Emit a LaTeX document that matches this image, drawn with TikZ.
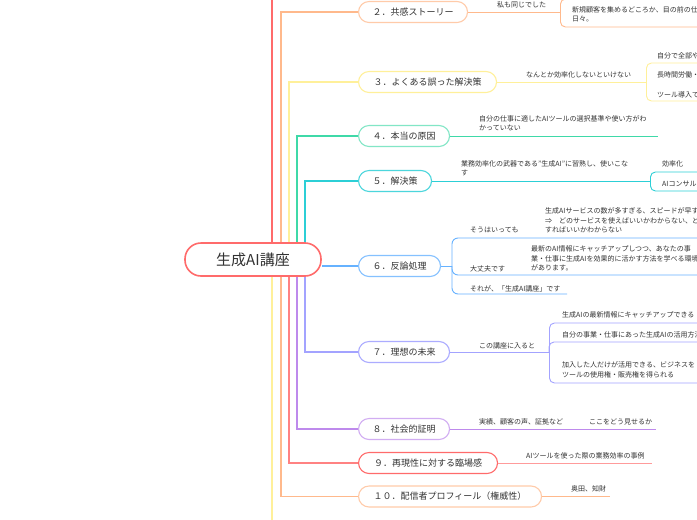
\documentclass[tikz,border=0pt]{standalone}
\usepackage{fontspec}
\setmainfont{Noto Sans CJK JP}
\usetikzlibrary{positioning,backgrounds}

\definecolor{cRed}{HTML}{FF6B6B}
\definecolor{cOrange}{HTML}{FFB98C}
\definecolor{cYellow}{HTML}{FFF09A}
\definecolor{cGreen}{HTML}{3FD9A8}
\definecolor{cCyan}{HTML}{2CCFD6}
\definecolor{cBlue}{HTML}{66B2FF}
\definecolor{cViolet}{HTML}{A3A3FF}
\definecolor{cPurple}{HTML}{BE8AEC}
\definecolor{cRedB}{HTML}{FF8282}
\definecolor{txt}{HTML}{333333}

\begin{document}
\begin{tikzpicture}[x=1pt, y=-1pt,
    root/.style={draw=cRed, line width=1.6pt, fill=white, rounded corners=16pt,
      minimum width=136pt, minimum height=33pt, font=\fontsize{15}{17}\selectfont, text=txt},
    topic/.style={draw=#1, line width=1.1pt, fill=white, rounded corners=10.5pt,
      minimum height=21pt, inner xsep=0pt, anchor=west, font=\fontsize{9}{11}\selectfont, text=txt},
    trunk/.style={line width=1.3pt},
    branch/.style={line width=0.9pt},
    lbl/.style={inner sep=0pt, anchor=west, align=left, font=\fontsize{7}{9.4}\selectfont, text=txt},
    subbox/.style={draw=#1, line width=0.9pt, rounded corners=5pt, minimum width=220pt, anchor=west}]

    \useasboundingbox (0,0) rectangle (697,520);
    \clip (0,0) rectangle (697,520);

    % central topic and main topics
    \node[root] (root) at (253,259.5) {生成AI講座};
    \node[topic=cOrange!75, minimum width=109pt] (t2) at (358,12) {２．共感ストーリー};
    \node[topic=cYellow, minimum width=138pt] (t3) at (358,82) {３．よくある誤った解決策};
    \node[topic=cGreen!65, minimum width=91pt] (t4) at (358,136) {４．本当の原因};
    \node[topic=cCyan!85, minimum width=73pt] (t5) at (358,181) {５．解決策};
    \node[topic=cBlue!80, minimum width=82pt] (t6) at (358,266) {６．反論処理};
    \node[topic=cViolet!90, minimum width=91pt] (t7) at (358,352) {７．理想の未来};
    \node[topic=cPurple!70, minimum width=91pt] (t8) at (358,429) {８．社会的証明};
    \node[topic=cRed, minimum width=139pt] (t9) at (358,463) {９．再現性に対する臨場感};
    \node[topic=cOrange!75, minimum width=183pt] (t10) at (358,496.5) {１０．配信者プロフィール（権威性）};

    % trunk lines
    \coordinate (r1) at (272,259.5);
    \coordinate (r2) at (281,259.5);
    \coordinate (r3) at (289,259.5);
    \coordinate (r4) at (297,259.5);
    \coordinate (r5) at (305,259.5);
    \coordinate (e1) at (272,0);
    \coordinate (e11) at (272,520);
    \begin{scope}[on background layer]
      \fill[white] (0,0) rectangle (697,520);
      \draw[trunk, cRed] (r1) -- (e1);
      \draw[trunk, cYellow] (r1) -- (e11);
      \draw[trunk, cOrange] (r2) |- (t2.west);
      \draw[trunk, cYellow] (r3) |- (t3.west);
      \draw[trunk, cGreen] (r4) |- (t4.west);
      \draw[trunk, cCyan] (r5) |- (t5.west);
      \draw[trunk, cBlue] (t6.west -| root.east) -- (t6.west);
      \draw[trunk, cViolet] (r5) |- (t7.west);
      \draw[trunk, cPurple] (r4) |- (t8.west);
      \draw[trunk, cRedB] (r3) |- (t9.west);
      \draw[trunk, cOrange] (r2) |- (t10.west);
    \end{scope}

    % 2
    \node[subbox=cOrange, minimum height=28pt] (b2) at (560,13) {};
    \draw[branch, cOrange] (t2.east) -- (t2.east -| b2.west);
    \node[lbl] (l2) at (497,4.5) {私も同じでした};
    \node[lbl] (l2a) at (572,14.5) {新規顧客を集めるどころか、目の前の仕\\日々。};

    % 3
    \node[subbox=cYellow, minimum height=38pt] (b3) at (646,82) {};
    \draw[branch, cYellow] (t3.east) -- (b3.west);
    \node[lbl] (l3) at (526,74.5) {なんとか効率化しないといけない};
    \node[lbl] (l3a) at (657,55.5) {自分で全部や};
    \node[lbl] (l3b) at (657,74.5) {長時間労働・};
    \node[lbl] (l3c) at (657,95) {ツール導入で};

    % 4
    \coordinate (e4) at (658,136);
    \draw[branch, cGreen] (t4.east) -- (e4);
    \node[lbl] (l4) at (479,123.5) {自分の仕事に適したAIツールの選択基準や使い方がわ\\かっていない};

    % 5
    \node[subbox=cCyan, minimum height=19pt] (b5) at (650,181.5) {};
    \draw[branch, cCyan] (t5.east) -- (t5.east -| b5.west);
    \node[lbl] (l5) at (461,168.5) {業務効率化の武器である"生成AI"に習熟し、使いこな\\す};
    \node[lbl] (l5a) at (662,163.5) {効率化};
    \node[lbl] (l5b) at (662,184) {AIコンサル};

    % 6
    \coordinate (j6) at (452,266);
    \coordinate (e6a) at (697,238);
    \coordinate (e6b) at (697,275);
    \coordinate (e6c) at (567,294);
    \draw[branch, cBlue] (t6.east) -- (j6);
    \draw[branch, cBlue, rounded corners=6pt] (e6a) -| (j6) |- (e6c);
    \draw[branch, cBlue, rounded corners=6pt] (j6) |- (e6b);
    \node[lbl] (l6a) at (470,229.5) {そうはいっても};
    \node[lbl] (l6a1) at (545,220.5) {生成AIサービスの数が多すぎる、スピードが早す\\⇒　どのサービスを使えばいいかわからない、ど\\すればいいかわからない};
    \node[lbl] (l6b) at (470,268.5) {大丈夫です};
    \node[lbl] (l6b1) at (531,258.5) {最新のAI情報にキャッチアップしつつ、あなたの事\\業・仕事に生成AIを効果的に活かす方法を学べる環境\\があります。};
    \node[lbl] (l6c) at (470,288.5) {それが、「生成AI講座」です};

    % 7
    \node[subbox=cViolet, minimum height=60pt] (b7) at (549,353) {};
    \coordinate (e7) at (697,342);
    \draw[branch, cViolet] (t7.east) -- (t7.east -| b7.west);
    \draw[branch, cViolet, rounded corners=5pt] (t7.east -| b7.west) |- (e7);
    \node[lbl] (l7) at (479,345.5) {この講座に入ると};
    \node[lbl] (l7a) at (562,314.5) {生成AIの最新情報にキャッチアップできる};
    \node[lbl] (l7b) at (562,334.5) {自分の事業・仕事にあった生成AIの活用方法};
    \node[lbl] (l7c) at (562,370) {加入した人だけが活用できる、ビジネスを\\ツールの使用権・販売権を得られる};

    % 8
    \coordinate (e8) at (656,429);
    \draw[branch, cPurple] (t8.east) -- (e8);
    \node[lbl] (l8a) at (479,421.5) {実績、顧客の声、証拠など};
    \node[lbl] (l8b) at (589,421.5) {ここをどう見せるか};

    % 9
    \coordinate (e9) at (652,463);
    \draw[branch, cRedB!80] (t9.east) -- (e9);
    \node[lbl] (l9) at (526,455.5) {AIツールを使った際の業務効率の事例};

    % 10
    \coordinate (e10) at (610,496.5);
    \draw[branch, cOrange] (t10.east) -- (e10);
    \node[lbl] (l10) at (571,488.5) {奥田、知財};
\end{tikzpicture}
\end{document}
